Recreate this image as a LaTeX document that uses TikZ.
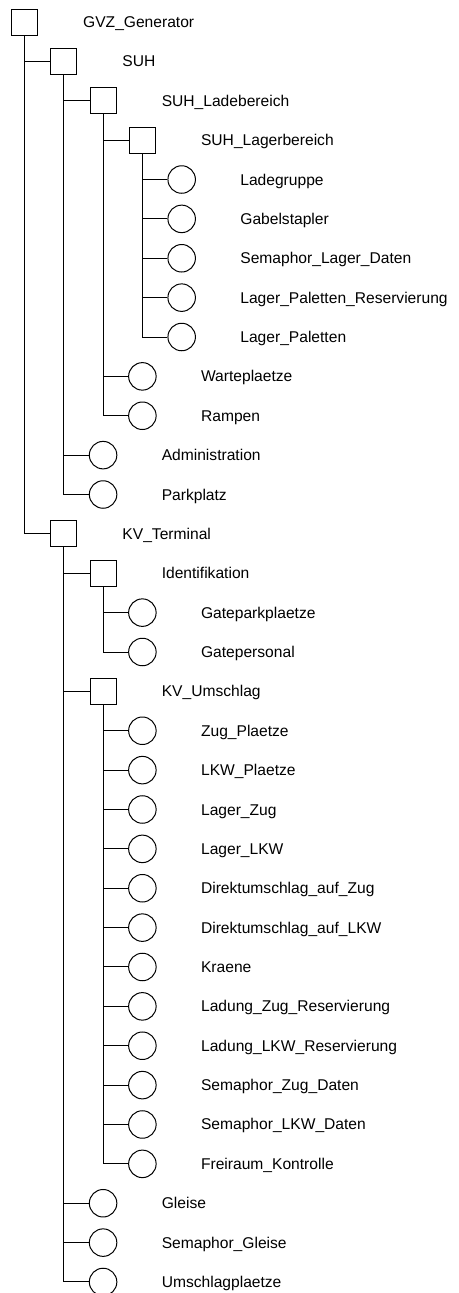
\documentclass[tikz,border=0pt]{standalone}
\usepackage{fontspec}
\setmainfont{Liberation Sans}
\tikzset{
  sq/.style={draw, rectangle, minimum size=26bp, inner sep=0, line width=1bp, fill=white},
  circ/.style={draw, circle, minimum size=27.5bp, inner sep=0, line width=1bp, fill=white},
  lbl/.style={anchor=base west, inner sep=0, xshift=58.5bp, yshift=-5.5bp, font=\fontsize{15.6bp}{18bp}\selectfont},
  link/.style={line width=1bp}
}
\begin{document}
\begin{tikzpicture}[x=39.3bp,y=-39.375bp]
\useasboundingbox (-0.623,-0.559) rectangle (11.056,32.28);
% SUH branch
\node[sq] (gvz) at (0,0) {};
\node[lbl] (gvzt) at (gvz) {GVZ\_Generator};
\node[sq] (suh) at (1,1) {};
\node[lbl] (suht) at (suh) {SUH};
\node[sq] (lade) at (2,2) {};
\node[lbl] (ladet) at (lade) {SUH\_Ladebereich};
\node[sq] (lager) at (3,3) {};
\node[lbl] (lagert) at (lager) {SUH\_Lagerbereich};
\node[circ] (lgr) at (4,4) {};
\node[lbl] (lgrt) at (lgr) {Ladegruppe};
\node[circ] (gab) at (4,5) {};
\node[lbl] (gabt) at (gab) {Gabelstapler};
\node[circ] (sld) at (4,6) {};
\node[lbl] (sldt) at (sld) {Semaphor\_Lager\_Daten};
\node[circ] (lpr) at (4,7) {};
\node[lbl] (lprt) at (lpr) {Lager\_Paletten\_Reservierung};
\node[circ] (lp) at (4,8) {};
\node[lbl] (lpt) at (lp) {Lager\_Paletten};
\node[circ] (wart) at (3,9) {};
\node[lbl] (wartt) at (wart) {Warteplaetze};
\node[circ] (ramp) at (3,10) {};
\node[lbl] (rampt) at (ramp) {Rampen};
\node[circ] (adm) at (2,11) {};
\node[lbl] (admt) at (adm) {Administration};
\node[circ] (park) at (2,12) {};
\node[lbl] (parkt) at (park) {Parkplatz};
% KV branch
\node[sq] (kvt) at (1,13) {};
\node[lbl] (kvtt) at (kvt) {KV\_Terminal};
\node[sq] (ident) at (2,14) {};
\node[lbl] (identt) at (ident) {Identifikation};
\node[circ] (gpp) at (3,15) {};
\node[lbl] (gppt) at (gpp) {Gateparkplaetze};
\node[circ] (gpers) at (3,16) {};
\node[lbl] (gperst) at (gpers) {Gatepersonal};
\node[sq] (kvu) at (2,17) {};
\node[lbl] (kvut) at (kvu) {KV\_Umschlag};
\node[circ] (zp) at (3,18) {};
\node[lbl] (zpt) at (zp) {Zug\_Plaetze};
\node[circ] (lkwp) at (3,19) {};
\node[lbl] (lkwpt) at (lkwp) {LKW\_Plaetze};
\node[circ] (lz) at (3,20) {};
\node[lbl] (lzt) at (lz) {Lager\_Zug};
\node[circ] (llkw) at (3,21) {};
\node[lbl] (llkwt) at (llkw) {Lager\_LKW};
\node[circ] (dz) at (3,22) {};
\node[lbl] (dzt) at (dz) {Direktumschlag\_auf\_Zug};
\node[circ] (dlkw) at (3,23) {};
\node[lbl] (dlkwt) at (dlkw) {Direktumschlag\_auf\_LKW};
\node[circ] (kr) at (3,24) {};
\node[lbl] (krt) at (kr) {Kraene};
\node[circ] (lzr) at (3,25) {};
\node[lbl] (lzrt) at (lzr) {Ladung\_Zug\_Reservierung};
\node[circ] (llr) at (3,26) {};
\node[lbl] (llrt) at (llr) {Ladung\_LKW\_Reservierung};
\node[circ] (szd) at (3,27) {};
\node[lbl] (szdt) at (szd) {Semaphor\_Zug\_Daten};
\node[circ] (slkd) at (3,28) {};
\node[lbl] (slkdt) at (slkd) {Semaphor\_LKW\_Daten};
\node[circ] (frk) at (3,29) {};
\node[lbl] (frkt) at (frk) {Freiraum\_Kontrolle};
\node[circ] (gl) at (2,30) {};
\node[lbl] (glt) at (gl) {Gleise};
\node[circ] (sg) at (2,31) {};
\node[lbl] (sgt) at (sg) {Semaphor\_Gleise};
\node[circ] (ump) at (2,32) {};
\node[lbl] (umpt) at (ump) {Umschlagplaetze};
% links
\draw[link] (gvz.south |- suh) -- (suh.west);
\draw[link] (gvz.south) |- (kvt.west);
\draw[link] (suh.south |- lade) -- (lade.west);
\draw[link] (suh.south |- adm) -- (adm.west);
\draw[link] (suh.south) |- (park.west);
\draw[link] (lade.south |- lager) -- (lager.west);
\draw[link] (lade.south |- wart) -- (wart.west);
\draw[link] (lade.south) |- (ramp.west);
\draw[link] (lager.south |- lgr) -- (lgr.west);
\draw[link] (lager.south |- gab) -- (gab.west);
\draw[link] (lager.south |- sld) -- (sld.west);
\draw[link] (lager.south |- lpr) -- (lpr.west);
\draw[link] (lager.south) |- (lp.west);
\draw[link] (kvt.south |- ident) -- (ident.west);
\draw[link] (kvt.south |- kvu) -- (kvu.west);
\draw[link] (kvt.south |- gl) -- (gl.west);
\draw[link] (kvt.south |- sg) -- (sg.west);
\draw[link] (kvt.south) |- (ump.west);
\draw[link] (ident.south |- gpp) -- (gpp.west);
\draw[link] (ident.south) |- (gpers.west);
\draw[link] (kvu.south |- zp) -- (zp.west);
\draw[link] (kvu.south |- lkwp) -- (lkwp.west);
\draw[link] (kvu.south |- lz) -- (lz.west);
\draw[link] (kvu.south |- llkw) -- (llkw.west);
\draw[link] (kvu.south |- dz) -- (dz.west);
\draw[link] (kvu.south |- dlkw) -- (dlkw.west);
\draw[link] (kvu.south |- kr) -- (kr.west);
\draw[link] (kvu.south |- lzr) -- (lzr.west);
\draw[link] (kvu.south |- llr) -- (llr.west);
\draw[link] (kvu.south |- szd) -- (szd.west);
\draw[link] (kvu.south |- slkd) -- (slkd.west);
\draw[link] (kvu.south) |- (frk.west);
\end{tikzpicture}
\end{document}
